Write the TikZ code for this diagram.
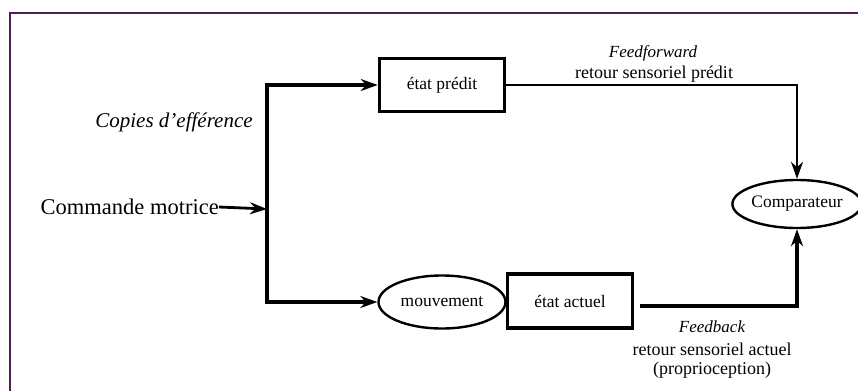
\documentclass[tikz,border=0pt]{standalone}
\usepackage{fontspec}
\setmainfont{Liberation Serif}
\usetikzlibrary{shapes.geometric,arrows.meta}
\definecolor{cadre}{RGB}{80,30,80}
\begin{document}
\begin{tikzpicture}[x=1pt, y=-1pt,
  boite/.style={draw=black, line width=3.6pt, minimum width=125pt, minimum height=53pt, inner sep=0pt, font=\fontsize{17.5}{20}\selectfont},
  bulle/.style={draw=black, ellipse, line width=2.4pt, inner sep=0pt, font=\fontsize{17.5}{20}\selectfont},
  fleche/.style={line width=3.4pt, -{Stealth[length=17pt,width=12pt]}},
  trait/.style={line width=3.4pt}]
\useasboundingbox (0,0) rectangle (858,391);
\draw[cadre, line width=2pt] (10,391) -- (10,13) -- (858,13);
\node[boite] (predit) at (442,85) {état prédit};
\node[bulle, minimum width=127pt, minimum height=53pt] (mouv) at (442,302) {mouvement};
\node[boite, minimum height=54pt] (actuel) at (570,301) {état actuel};
\node[bulle, minimum width=121pt, minimum height=48pt] (comp) at (797,204) {Comparateur};
\node[anchor=east, inner sep=0pt, font=\fontsize{22.5}{26}\selectfont] (cmd) at (219,207) {Commande motrice};
\node[font=\fontsize{21}{24}\selectfont\itshape] (copies) at (174,122) {Copies d’efférence};
\node[font=\fontsize{17}{20}\selectfont\itshape] (ff) at (653,53) {Feedforward};
\node[font=\fontsize{18}{20}\selectfont] (ffr) at (654,74) {retour sensoriel prédit};
\node[font=\fontsize{17}{20}\selectfont\itshape] (fb) at (712,327) {Feedback};
\node[font=\fontsize{18}{20}\selectfont] (fbr) at (712,349) {retour sensoriel actuel};
\node[font=\fontsize{18}{20}\selectfont] (fbp) at (712,370) {(proprioception)};
\coordinate (split) at (267,209);
\coordinate (sortie) at (640,306);
\draw[fleche, line width=2.8pt] (cmd.east) -- (split);
\draw[fleche] (split) |- (predit.west);
\draw[fleche] (split) |- (mouv.west);
\draw[trait] (split) -- ++(0,-1.7);
\draw[fleche, line width=2.6pt] (predit.east) -| (comp.north);
\draw[fleche] (sortie) -| (comp.south);
\end{tikzpicture}
\end{document}
